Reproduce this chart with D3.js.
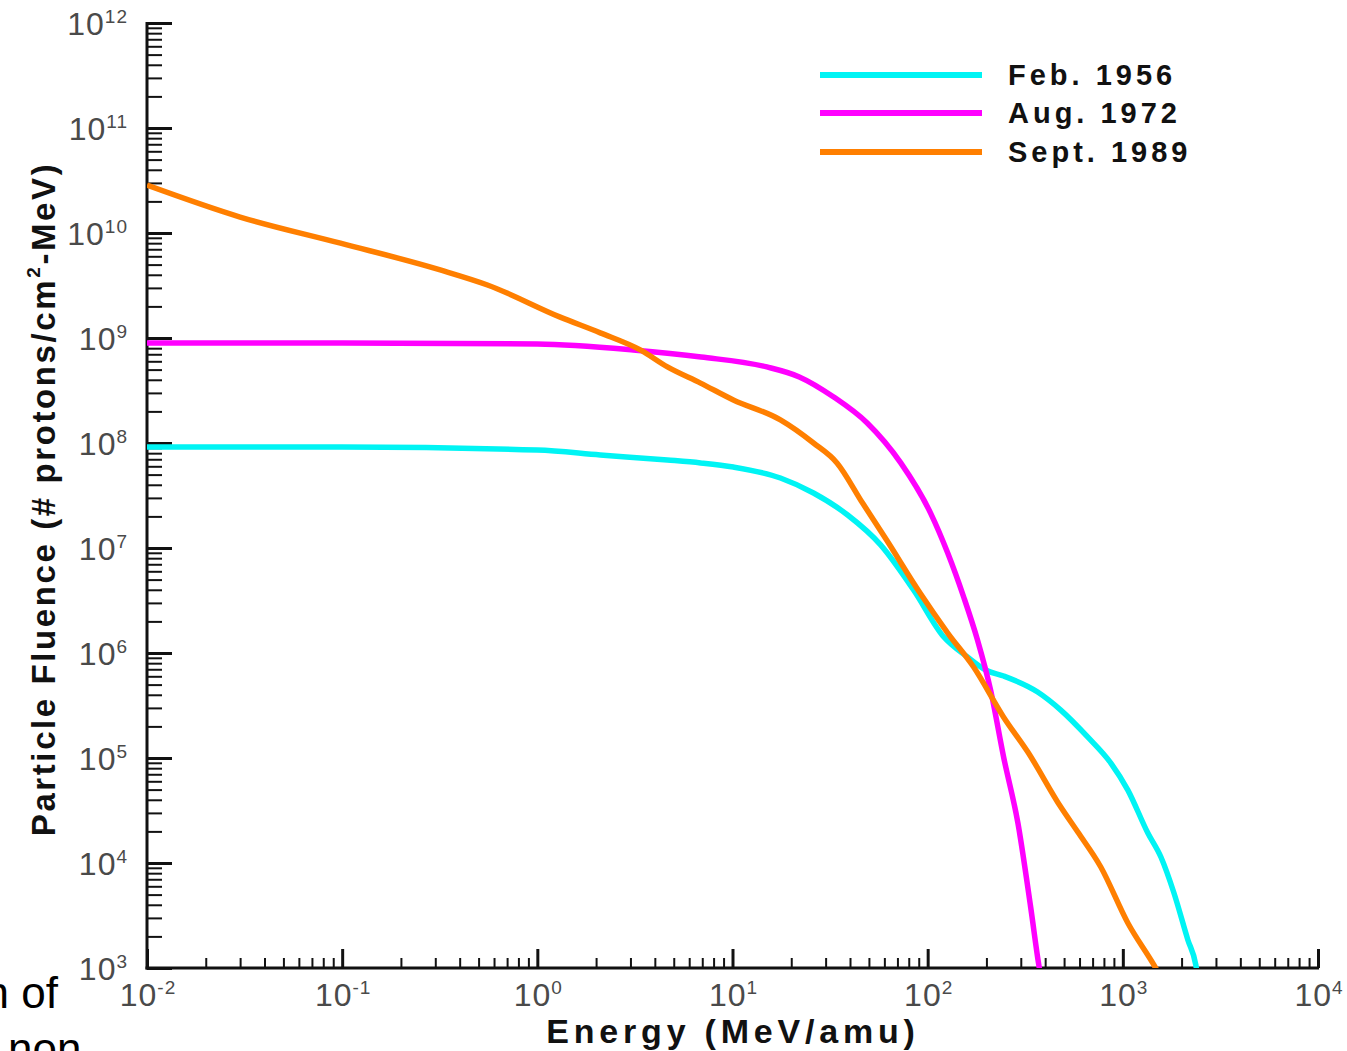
<!DOCTYPE html>
<html>
<head>
<meta charset="utf-8">
<script src="https://cdn.jsdelivr.net/npm/d3@7"></script>
<style>
  body { margin: 0; background: #fff; }
  svg { display: block; font-family: "Liberation Sans", Arial, sans-serif; }
</style>
</head>
<body>
<svg id="chart" width="1347" height="1051"></svg>
<script>
// energies in MeV/amu, fluence in protons/cm2-MeV
const febEnergy = [0.01, 0.1, 1, 2.1, 4.64, 6.86, 10.1, 17.6, 26, 38.9, 57.4, 84.7, 121, 160, 198, 245, 366, 481, 662, 868, 1061, 1343, 1567, 1828, 2154, 2366, 2454];
const febFluence = [9.16e7, 9.16e7, 8.57e7, 7.69e7, 6.89e7, 6.46e7, 5.9e7, 4.64e7, 3.34e7, 2.06e7, 1.07e7, 3.98e6, 1.42e6, 9.16e5, 6.89e5, 6.04e5, 4.25e5, 2.86e5, 1.58e5, 8.95e4, 4.95e4, 1.93e4, 1.14e4, 5.18e3, 1.85e3, 1.07e3, 6.9e2];

const augEnergy = [0.01, 0.1, 1, 3.1, 6.9, 15, 22, 33, 49, 72.8, 103.5, 126.7, 153, 180, 210, 245, 290, 337, 371, 385];
const augFluence = [8.95e8, 8.95e8, 8.77e8, 7.69e8, 6.59e8, 5.3e8, 4.26e8, 2.74e8, 1.55e8, 6.46e7, 2.15e7, 8.95e6, 3.41e6, 1.33e6, 4.45e5, 1.02e5, 2.4e4, 3.81e3, 1.07e3, 7.1e2];

const septEnergy = [0.01, 0.03, 0.098, 0.318, 0.555, 1.31, 2.1, 3.37, 4.64, 6.86, 10.1, 17.6, 26, 34.3, 46.4, 61.6, 91.4, 126.7, 172, 245, 326, 481, 588, 771, 1061, 1442, 1549];
const septFluence = [2.86e10, 1.42e10, 8.0e9, 4.45e9, 3.2e9, 1.58e9, 1.12e9, 7.7e8, 5.3e8, 3.72e8, 2.57e8, 1.66e8, 1.0e8, 6.46e7, 2.68e7, 1.19e7, 3.72e6, 1.55e6, 7.36e5, 2.45e5, 1.14e5, 3.41e4, 1.97e4, 9.16e3, 2.68e3, 1.07e3, 8.5e2];

const seriesNames = ["Feb. 1956", "Aug. 1972", "Sept. 1989"];
const seriesColors = ["#00f4f4", "#ff00ff", "#ff7f00"];

const xExponents = [-2, -1, 0, 1, 2, 3, 4];
const yExponents = [3, 4, 5, 6, 7, 8, 9, 10, 11, 12];

const svg = d3.select("#chart");

const x = d3.scaleLog().domain([1e-2, 1e4]).range([147, 1318]);
const y = d3.scaleLog().domain([1e3, 1e12]).range([968, 23]);

function minorTicks(exps) {
    const out = [];
    for (let i = 0; i < exps.length - 1; i++) {
        for (let m = 2; m <= 9; m++) out.push(m * Math.pow(10, exps[i]));
    }
    return out;
}

// y axis ticks (pointing into the plot)
svg.append("g")
    .attr("transform", `translate(${x.range()[0]},0)`)
    .call(d3.axisRight(y).tickValues(minorTicks(yExponents)).tickSize(15).tickFormat(""))
    .call(g => g.select(".domain").remove())
    .call(g => g.selectAll("line").attr("stroke", "#111").attr("stroke-width", 2));

svg.append("g")
    .attr("transform", `translate(${x.range()[0]},0)`)
    .call(d3.axisRight(y).tickValues(yExponents.map(e => Math.pow(10, e))).tickSize(25).tickFormat(""))
    .call(g => g.select(".domain").remove())
    .call(g => g.selectAll("line").attr("stroke", "#111").attr("stroke-width", 3));

// x axis ticks (pointing up)
svg.append("g")
    .attr("transform", `translate(0,${y.range()[0]})`)
    .call(d3.axisTop(x).tickValues(minorTicks(xExponents)).tickSize(10).tickFormat(""))
    .call(g => g.select(".domain").remove())
    .call(g => g.selectAll("line").attr("stroke", "#111").attr("stroke-width", 2));

svg.append("g")
    .attr("transform", `translate(0,${y.range()[0]})`)
    .call(d3.axisTop(x).tickValues(xExponents.map(e => Math.pow(10, e))).tickSize(19).tickFormat(""))
    .call(g => g.select(".domain").remove())
    .call(g => g.selectAll("line").attr("stroke", "#111").attr("stroke-width", 3));

// axis lines
svg.append("line")
    .attr("x1", x.range()[0]).attr("x2", x.range()[0])
    .attr("y1", y.range()[1] - 1).attr("y2", y.range()[0] + 1.5)
    .attr("stroke", "#111").attr("stroke-width", 3);
svg.append("line")
    .attr("x1", x.range()[0] - 1.5).attr("x2", x.range()[1] + 1)
    .attr("y1", y.range()[0]).attr("y2", y.range()[0])
    .attr("stroke", "#111").attr("stroke-width", 3);

// tick labels: 10 with superscript exponent
function powerLabel(sel, e) {
    sel.append("tspan").text("10");
    sel.append("tspan").attr("font-size", 19).attr("dy", -12).text(e < 0 ? "-" + (-e) : e);
}

yExponents.forEach(e => {
    svg.append("text")
        .attr("x", 128)
        .attr("y", y(Math.pow(10, e)) + 12)
        .attr("text-anchor", "end")
        .attr("font-size", 32)
        .attr("letter-spacing", 1)
        .attr("fill", "#4a4a4a")
        .call(powerLabel, e);
});

xExponents.forEach(e => {
    svg.append("text")
        .attr("x", x(Math.pow(10, e)) + 1)
        .attr("y", 1006)
        .attr("text-anchor", "middle")
        .attr("font-size", 32)
        .attr("letter-spacing", 1)
        .attr("fill", "#4a4a4a")
        .call(powerLabel, e);
});

// axis titles
svg.append("text")
    .attr("x", 733)
    .attr("y", 1043)
    .attr("text-anchor", "middle")
    .attr("font-size", 34)
    .attr("font-weight", "bold")
    .attr("letter-spacing", 4.8)
    .attr("fill", "#111")
    .text("Energy (MeV/amu)");

const yTitle = svg.append("text")
    .attr("transform", "translate(55,499) rotate(-90)")
    .attr("text-anchor", "middle")
    .attr("font-size", 33)
    .attr("font-weight", "bold")
    .attr("letter-spacing", 2.6)
    .attr("fill", "#111");
yTitle.append("tspan").text("Particle Fluence (# protons/cm");
yTitle.append("tspan").attr("font-size", 19).attr("dy", -15).text("2");
yTitle.append("tspan").attr("dy", 15).text("-MeV)");

// curves
svg.append("clipPath").attr("id", "plotClip")
    .append("rect")
    .attr("x", x.range()[0]).attr("y", y.range()[1])
    .attr("width", x.range()[1] - x.range()[0])
    .attr("height", y.range()[0] - y.range()[1]);

const line = d3.line()
    .x(d => x(d[0]))
    .y(d => y(d[1]))
    .curve(d3.curveMonotoneX);

const series = [
    d3.zip(febEnergy, febFluence),
    d3.zip(augEnergy, augFluence),
    d3.zip(septEnergy, septFluence)
];

svg.append("g")
    .attr("clip-path", "url(#plotClip)")
    .selectAll("path")
    .data(series)
    .join("path")
    .attr("d", line)
    .attr("fill", "none")
    .attr("stroke", (d, i) => seriesColors[i])
    .attr("stroke-width", 5.5)
    .attr("stroke-linejoin", "round");

// legend
const legend = svg.append("g");
const legendY = [75, 113, 152];
seriesNames.forEach((name, i) => {
    legend.append("line")
        .attr("x1", 820).attr("x2", 982)
        .attr("y1", legendY[i]).attr("y2", legendY[i])
        .attr("stroke", seriesColors[i])
        .attr("stroke-width", 6);
    legend.append("text")
        .attr("x", 1008)
        .attr("y", legendY[i] + 10)
        .attr("font-size", 29)
        .attr("font-weight", "bold")
        .attr("letter-spacing", 4)
        .attr("fill", "#111")
        .text(name);
});

// clipped slide text at the lower left
svg.append("text")
    .attr("x", 58).attr("y", 1008)
    .attr("text-anchor", "end")
    .attr("font-size", 44)
    .attr("fill", "#000")
    .text("n of");
svg.append("text")
    .attr("x", 8).attr("y", 1064)
    .attr("font-size", 44)
    .attr("fill", "#000")
    .text("non");
</script>
</body>
</html>
